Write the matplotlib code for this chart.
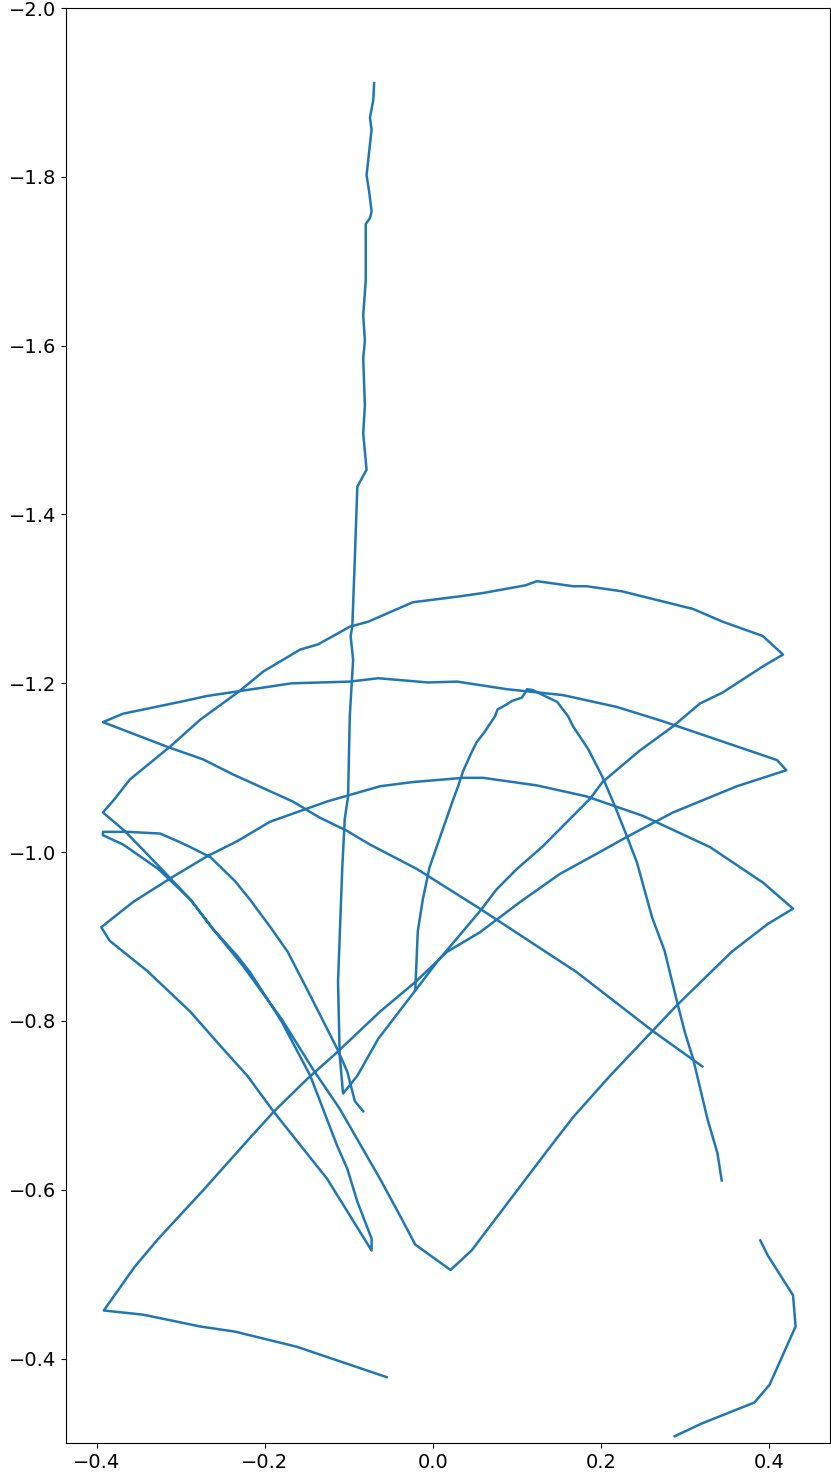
import matplotlib
matplotlib.use("Agg")
import matplotlib.pyplot as plt

# Stroke 1: vertical line from the top, then the inner arch
s1_x = [-0.070, -0.071, -0.075, -0.073, -0.077, -0.079, -0.076, -0.073, -0.075, -0.080,
        -0.080, -0.083, -0.081, -0.083, -0.081, -0.083, -0.079, -0.090, -0.093, -0.096,
        -0.098, -0.095, -0.099, -0.101, -0.105, -0.108, -0.113, -0.111, -0.107, -0.090,
        -0.065, -0.021, -0.018, -0.012, -0.004, 0.023, 0.030, 0.036, 0.046, 0.052,
        0.062, 0.074, 0.077, 0.088, 0.094, 0.106, 0.110, 0.112, 0.119, 0.127,
        0.148, 0.161, 0.167, 0.185, 0.202, 0.217, 0.231, 0.243, 0.261, 0.276,
        0.292, 0.300, 0.310, 0.327, 0.339, 0.344]
s1_y = [-1.911, -1.891, -1.870, -1.856, -1.820, -1.802, -1.783, -1.759, -1.751, -1.744,
        -1.677, -1.636, -1.606, -1.585, -1.529, -1.496, -1.453, -1.433, -1.347, -1.267,
        -1.256, -1.228, -1.161, -1.066, -1.039, -0.980, -0.846, -0.759, -0.714, -0.735,
        -0.779, -0.836, -0.906, -0.944, -0.982, -1.059, -1.078, -1.096, -1.118, -1.130,
        -1.143, -1.161, -1.169, -1.175, -1.179, -1.183, -1.189, -1.193, -1.192, -1.188,
        -1.178, -1.161, -1.149, -1.122, -1.089, -1.054, -1.019, -0.988, -0.923, -0.883,
        -0.818, -0.787, -0.755, -0.684, -0.643, -0.611]

# Stroke 2: left loops, lower arc, upper arc
s2_x = [-0.083, -0.093, -0.102, -0.114, -0.146, -0.173, -0.192, -0.218, -0.236, -0.265,
        -0.289, -0.304, -0.325, -0.363, -0.393, -0.393, -0.369, -0.327, -0.289, -0.262,
        -0.233, -0.218, -0.192, -0.180, -0.146, -0.114, -0.102, -0.090, -0.073, -0.073,
        -0.126, -0.190, -0.221, -0.250, -0.289, -0.340, -0.385, -0.395, -0.357, -0.311,
        -0.269, -0.233, -0.194, -0.126, -0.063, -0.024, 0.036, 0.060, 0.124, 0.183,
        0.250, 0.330, 0.393, 0.429, 0.399, 0.356, 0.290, 0.211, 0.167, 0.136,
        0.046, 0.021, -0.021, -0.039, -0.063, -0.111, -0.143, -0.180, -0.226, -0.262,
        -0.289, -0.329, -0.367, -0.393, -0.379, -0.361, -0.313, -0.277, -0.230, -0.202,
        -0.158, -0.137, -0.099, -0.077, -0.024, 0.032, 0.060, 0.110, 0.124, 0.167,
        0.183, 0.225, 0.310, 0.345, 0.393, 0.417, 0.393, 0.345, 0.318, 0.286,
        0.246, 0.202, 0.187, 0.131, 0.100, 0.076, 0.056, 0.005, -0.021]
s2_y = [-0.693, -0.705, -0.740, -0.767, -0.830, -0.882, -0.909, -0.944, -0.966, -0.994,
        -1.006, -1.013, -1.022, -1.024, -1.024, -1.020, -1.009, -0.980, -0.944, -0.909,
        -0.877, -0.858, -0.818, -0.799, -0.735, -0.652, -0.625, -0.586, -0.542, -0.528,
        -0.613, -0.693, -0.735, -0.767, -0.811, -0.859, -0.895, -0.911, -0.941, -0.970,
        -0.995, -1.013, -1.036, -1.060, -1.078, -1.083, -1.088, -1.088, -1.079, -1.066,
        -1.043, -1.006, -0.964, -0.933, -0.915, -0.882, -0.818, -0.735, -0.686, -0.646,
        -0.528, -0.505, -0.535, -0.569, -0.613, -0.696, -0.743, -0.802, -0.865, -0.909,
        -0.944, -0.986, -1.025, -1.047, -1.063, -1.086, -1.125, -1.157, -1.191, -1.214,
        -1.240, -1.246, -1.267, -1.273, -1.296, -1.303, -1.307, -1.316, -1.321, -1.315,
        -1.315, -1.309, -1.288, -1.273, -1.256, -1.234, -1.220, -1.189, -1.176, -1.149,
        -1.120, -1.083, -1.063, -1.007, -0.980, -0.956, -0.930, -0.870, -0.836]

# Stroke 3: bottom-left line, middle arc, long diagonal
s3_x = [-0.055, -0.162, -0.236, -0.277, -0.345, -0.392, -0.355, -0.327, -0.274, -0.221,
        -0.190, -0.150, -0.114, -0.063, -0.021, 0.017, 0.056, 0.104, 0.151, 0.195,
        0.231, 0.286, 0.362, 0.421, 0.410, 0.345, 0.274, 0.219, 0.155, 0.088,
        0.029, -0.006, -0.065, -0.099, -0.168, -0.269, -0.301, -0.369, -0.393, -0.317,
        -0.274, -0.238, -0.167, -0.135, -0.102, -0.075, -0.019, 0.056, 0.171, 0.262,
        0.321]
s3_y = [-0.378, -0.414, -0.432, -0.438, -0.452, -0.457, -0.509, -0.542, -0.599, -0.658,
        -0.692, -0.731, -0.763, -0.811, -0.846, -0.882, -0.905, -0.941, -0.974, -0.998,
        -1.018, -1.047, -1.078, -1.097, -1.109, -1.131, -1.155, -1.172, -1.186, -1.193,
        -1.202, -1.201, -1.206, -1.202, -1.200, -1.185, -1.178, -1.164, -1.154, -1.125,
        -1.110, -1.092, -1.060, -1.041, -1.025, -1.009, -0.980, -0.933, -0.858, -0.788,
        -0.746]

# Stroke 4: bottom-right hook
s4_x = [0.390, 0.399, 0.429, 0.432, 0.401, 0.383, 0.320, 0.288]
s4_y = [-0.540, -0.522, -0.475, -0.438, -0.369, -0.348, -0.323, -0.308]

strokes = [(s1_x, s1_y), (s2_x, s2_y), (s3_x, s3_y), (s4_x, s4_y)]

fig = plt.figure(figsize=(8.31, 14.79), dpi=100)
ax = fig.add_axes([66 / 831, 1 - 1443 / 1479, (830 - 66) / 831, (1443 - 8) / 1479])
for xs, ys in strokes:
    ax.plot(xs, ys, color="#1f77b4", linewidth=1.8)

ax.set_xlim(-0.437, 0.473)
ax.set_ylim(-0.30, -2.0)
ax.set_xticks([-0.4, -0.2, 0.0, 0.2, 0.4])
ax.set_yticks([-2.0, -1.8, -1.6, -1.4, -1.2, -1.0, -0.8, -0.6, -0.4])
ax.tick_params(labelsize=14)

fig.savefig("out.png", dpi=100)
